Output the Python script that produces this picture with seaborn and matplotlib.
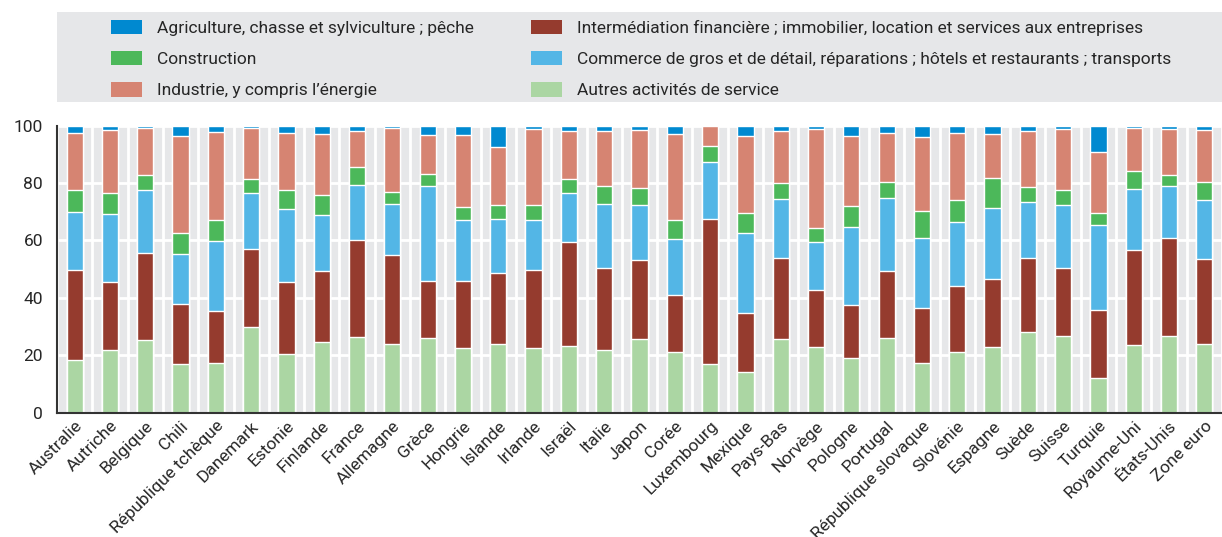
import numpy as np
import pandas as pd
import matplotlib
matplotlib.use("Agg")
import matplotlib.pyplot as plt
from matplotlib import font_manager
from matplotlib.patches import Patch, Rectangle
import seaborn as sns

countries = ["Australie", "Autriche", "Belgique", "Chili", "République tchèque", "Danemark",
             "Estonie", "Finlande", "France", "Allemagne", "Grèce", "Hongrie", "Islande",
             "Irlande", "Israël", "Italie", "Japon", "Corée", "Luxembourg", "Mexique",
             "Pays-Bas", "Norvège", "Pologne", "Portugal", "République slovaque", "Slovénie",
             "Espagne", "Suède", "Suisse", "Turquie", "Royaume-Uni", "États-Unis", "Zone euro"]

# parts in % of value added, bottom to top
autres = [18.4, 21.8, 25.3, 17.0, 17.3, 29.8, 20.4, 24.6, 26.4, 23.9, 26.0, 22.5, 23.9,
          22.5, 23.2, 21.8, 25.7, 21.1, 17.0, 14.2, 25.7, 22.9, 19.0, 26.0, 17.3, 21.1,
          22.9, 28.1, 26.7, 12.1, 23.6, 26.7, 23.9]
finance = [31.3, 23.7, 30.3, 20.9, 18.1, 27.2, 25.1, 24.8, 33.8, 31.0, 19.9, 23.4, 24.8,
           27.2, 36.3, 28.6, 27.5, 19.9, 50.5, 20.5, 28.2, 19.8, 18.5, 23.4, 19.2, 23.0,
           23.7, 25.8, 23.7, 23.7, 33.1, 34.2, 29.6]
commerce = [20.2, 23.7, 22.0, 17.4, 24.3, 19.5, 25.5, 19.5, 19.1, 17.8, 33.1, 21.2, 18.8,
            17.4, 17.0, 22.3, 19.2, 19.5, 19.8, 27.9, 20.5, 16.8, 27.2, 25.4, 24.4, 22.3,
            24.7, 19.5, 22.0, 29.6, 21.2, 18.1, 20.6]
construction = [7.7, 7.3, 5.2, 7.2, 7.4, 4.9, 6.6, 6.9, 6.3, 4.2, 4.2, 4.6, 4.9,
                5.3, 4.9, 6.3, 5.9, 6.6, 5.6, 7.0, 5.6, 4.8, 7.3, 5.6, 9.4, 7.7,
                10.5, 5.2, 5.2, 4.2, 6.3, 3.8, 6.3]
industrie = [19.8, 22.0, 16.5, 33.9, 30.7, 17.9, 19.8, 21.3, 12.5, 22.4, 13.5, 25.0, 20.2,
             26.4, 16.7, 19.1, 20.2, 30.0, 7.1, 26.8, 18.1, 34.5, 24.4, 17.0, 25.8, 23.3,
             15.3, 19.5, 21.2, 21.2, 15.0, 16.0, 18.1]
agriculture = [2.6, 1.5, 0.7, 3.6, 2.2, 0.7, 2.6, 2.9, 1.9, 0.7, 3.3, 3.3, 7.4,
               1.2, 1.9, 1.9, 1.5, 2.9, 0.0, 3.6, 1.9, 1.2, 3.6, 2.6, 3.9, 2.6,
               2.9, 1.9, 1.2, 9.2, 0.8, 1.2, 1.5]

labels = ["Autres activités de service",
          "Intermédiation financière ; immobilier, location et services aux entreprises",
          "Commerce de gros et de détail, réparations ; hôtels et restaurants ; transports",
          "Construction",
          "Industrie, y compris l’énergie",
          "Agriculture, chasse et sylviculture ; pêche"]
colors = ["#abd6a3", "#953b2e", "#53b6e6", "#4cb85a", "#d68472", "#0089d0"]

df = pd.DataFrame({"pays": countries})
parts = [autres, finance, commerce, construction, industrie, agriculture]
cum = np.cumsum(np.array(parts), axis=0)

sns.set_style("white")
names = {f.name for f in font_manager.fontManager.ttflist}
fam = "Liberation Sans Narrow" if "Liberation Sans Narrow" in names else "Roboto"
plt.rcParams["font.family"] = [fam, "DejaVu Sans"]

fig = plt.figure(figsize=(12.22, 5.37), dpi=100)
ax = fig.add_axes([57 / 1222, 1 - 412.7 / 537, 1 - 57 / 1222, (412.7 - 125.7) / 537])
ax.set_facecolor("#e6e7e9")

# draw cumulative tops from the highest layer down so each covers the next
for i in range(len(parts) - 1, -1, -1):
    df["val"] = cum[i]
    sns.barplot(data=df, x="pays", y="val", color=colors[i], width=0.46,
                saturation=1, ax=ax, zorder=3)

ax.set_xlim(-0.5, len(countries) - 0.5)
ax.set_ylim(0, 100)
ax.set_yticks([0, 20, 40, 60, 80, 100])
ax.set_xticks(np.arange(len(countries)))
ax.set_xticks(np.arange(len(countries) + 1) - 0.5, minor=True)
ax.set_xticklabels(countries, rotation=45, ha="right", rotation_mode="anchor", fontsize=12.5)
ax.tick_params(axis="y", labelsize=12.5, length=4, width=1, color="#333333", pad=6)
ax.tick_params(axis="x", which="major", length=0, pad=4)
ax.tick_params(axis="x", which="minor", direction="in", length=5, width=1, color="#333333")
ax.grid(axis="y", color="white", linewidth=2, zorder=1)
ax.grid(axis="x", which="minor", color="white", linewidth=2, zorder=1)
ax.set_axisbelow(True)
ax.set_xlabel("")
ax.set_ylabel("")
for s in ["top", "right"]:
    ax.spines[s].set_visible(False)
for s in ["left", "bottom"]:
    ax.spines[s].set_color("#333333")
    ax.spines[s].set_linewidth(1.5)
    ax.spines[s].set_zorder(5)

# legend panel
fig.patches.append(Rectangle((57 / 1222, 1 - 102 / 537), 1 - 57 / 1222, 90 / 537,
                             transform=fig.transFigure, facecolor="#e6e7e9",
                             edgecolor="none", zorder=0))
col1 = [5, 3, 4]
col2 = [1, 2, 0]
for col, x0 in [(col1, 111 / 1222), (col2, 531 / 1222)]:
    handles = [Patch(facecolor=colors[k], edgecolor="none", label=labels[k]) for k in col]
    fig.legend(handles=handles, loc="upper left", bbox_to_anchor=(x0, 1 - 19.5 / 537),
               frameon=False, fontsize=12.5, handlelength=1.78, handleheight=0.92,
               handletextpad=0.86, labelspacing=0.86, borderpad=0, borderaxespad=0)

fig.savefig("out.png", dpi=100)
